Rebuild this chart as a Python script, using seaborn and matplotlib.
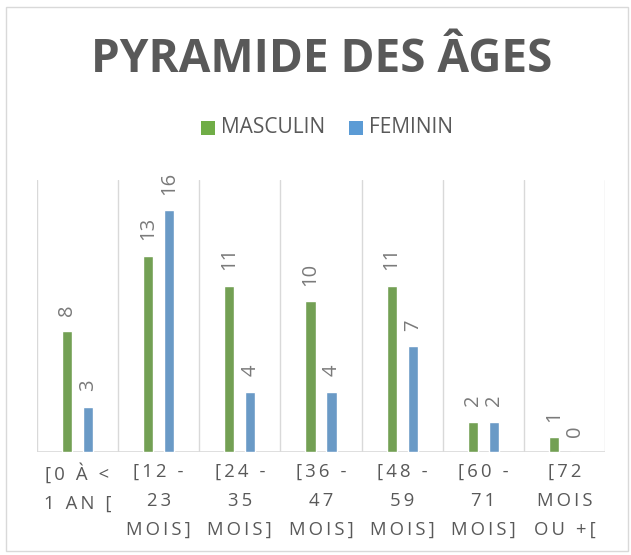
"""
Pyramide des âges - barres groupées masculin / féminin.
"""
import pandas as pd
import seaborn as sns
import matplotlib.pyplot as plt
from matplotlib.patches import Rectangle

categories = ["[0 À <\n1 AN [", "[12 -\n23\nMOIS]", "[24 -\n35\nMOIS]", "[36 -\n47\nMOIS]",
              "[48 -\n59\nMOIS]", "[60 -\n71\nMOIS]", "[72\nMOIS\nOU +["]
masculin = [8, 13, 11, 10, 11, 2, 1]
feminin = [3, 16, 4, 4, 7, 2, 0]
series = ["MASCULIN", "FEMININ"]
couleurs = ["#70ad47", "#5b9bd5"]

table = pd.DataFrame({
    "age": categories * 2,
    "sexe": [series[0]] * len(categories) + [series[1]] * len(categories),
    "effectif": masculin + feminin,
})

sns.set_style("white")
plt.rcParams['font.family'] = ['Open Sans', 'DejaVu Sans']

fig = plt.figure(figsize=(6.31, 5.55), dpi=100)
fig.patches.append(Rectangle((0.009, 0.008), 0.986, 0.979, transform=fig.transFigure,
                             fill=False, edgecolor="#d9d9d9", linewidth=1))
ax = fig.add_axes([0.0586, 0.1856, 0.9002, 0.4901])

sns.barplot(data=table, x="age", y="effectif", hue="sexe", palette=couleurs,
            width=0.52, gap=0.52, ax=ax, legend=False)

for cont in ax.containers:
    ax.bar_label(cont, rotation=90, padding=11, fontsize=14.5, color="#7a7a7a")

for i in range(len(categories) + 1):
    ax.axvline(i - 0.5, color="#d9d9d9", linewidth=1, zorder=0)
ax.axhline(0, color="#d9d9d9", linewidth=1.2, zorder=0)

ax.set_xlim(-0.5, len(categories) - 0.5)
ax.set_ylim(0, 18)
ax.set_yticks([])
ax.set_xlabel("")
ax.set_ylabel("")
for s in ax.spines.values():
    s.set_visible(False)

espace = "\u2009"
etiquettes = [espace.join(list(c)).replace(espace + "\n" + espace, "\n") for c in categories]
ax.set_xticks(range(len(categories)))
ax.set_xticklabels(etiquettes, fontsize=13.3, color="#595959", linespacing=1.78, va="top")
ax.tick_params(axis="x", length=0, pad=8)

fig.text(0.510, 0.892, "PYRAMIDE DES ÂGES", ha="center", va="center", fontsize=33,
         fontweight="bold", color="#595959")

fig.patches.append(Rectangle((0.319, 0.757), 0.022, 0.025, transform=fig.transFigure,
                             facecolor=couleurs[0], edgecolor="none"))
fig.text(0.350, 0.770, series[0], ha="left", va="center", fontsize=15, color="#595959")
fig.patches.append(Rectangle((0.553, 0.757), 0.022, 0.025, transform=fig.transFigure,
                             facecolor=couleurs[1], edgecolor="none"))
fig.text(0.584, 0.770, series[1], ha="left", va="center", fontsize=15, color="#595959")

plt.savefig("out.png", dpi=100)
